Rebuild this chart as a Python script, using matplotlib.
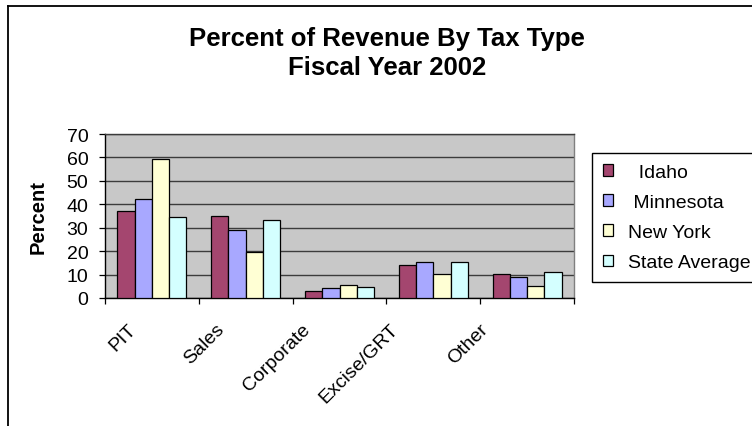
"""Percent of revenue by tax type, FY2002 -- grouped bar chart."""
import numpy as np
import matplotlib
matplotlib.use('Agg')
import matplotlib.pyplot as plt
from matplotlib.lines import Line2D
from matplotlib.transforms import ScaledTranslation

plt.rcParams['font.family'] = ['Liberation Sans', 'DejaVu Sans']

categories = ['PIT', 'Sales', 'Corporate', 'Excise/GRT', 'Other']
idaho      = [37.1, 35.0, 3.1, 13.9, 10.2]
minnesota  = [42.1, 29.0, 4.3, 15.5, 9.0]
new_york   = [59.5, 19.8, 5.4, 10.2, 5.3]
state_avg  = [34.6, 33.4, 4.7, 15.5, 11.2]
series_names = ['  Idaho', ' Minnesota', 'New York', 'State Average']
yticks = [0, 10, 20, 30, 40, 50, 60, 70]

colors = ['#A4466F', '#A8A8FF', '#FFFFD4', '#D4FFFF']
GRID = '#3c3c3c'

fig = plt.figure(figsize=(7.52, 4.27), dpi=100)
ax = fig.add_axes([105 / 752, 1 - 299 / 427, 469 / 752, 164 / 427])
ax.set_facecolor('#C8C8C8')

x = np.arange(len(categories)) + 0.5
w = 0.184
data = [idaho, minnesota, new_york, state_avg]
for k, (vals, name, c) in enumerate(zip(data, series_names, colors)):
    ax.bar(x + (k - 1.5) * w, vals, w, color=c, edgecolor='black',
           linewidth=0.9, label=name, zorder=3)

ax.set_xlim(0, len(categories))
ax.set_ylim(0, 70)
ax.set_yticks(yticks)
ax.yaxis.grid(True, color=GRID, linewidth=1.0, zorder=1)
ax.tick_params(axis='y', labelsize=14, length=4.5, width=0.9, pad=7.5,
               direction='out')

# category boundaries get the tick marks, labels sit at the centres
ax.set_xticks(np.arange(len(categories) + 1))
ax.set_xticklabels([])
ax.set_xticks(x, categories, minor=True)
ax.tick_params(axis='x', which='major', length=4, width=0.9, direction='out')
ax.tick_params(axis='x', which='minor', length=0, pad=20.5, labelsize=14)
dx_px = [-18, -24, -32, -38, -42]
for lab, dx in zip(ax.get_xticklabels(minor=True), dx_px):
    lab.set_rotation(45)
    lab.set_rotation_mode('anchor')
    lab.set_ha('right')
    lab.set_va('center')
    lab.set_transform(lab.get_transform()
                      + ScaledTranslation(dx / 100, 0, fig.dpi_scale_trans))

ax.spines['left'].set_color('black')
ax.spines['bottom'].set_color('black')
ax.spines['top'].set_color(GRID)
ax.spines['right'].set_color('#808080')
for s in ax.spines.values():
    s.set_linewidth(1.0)

ax.set_ylabel('Percent', fontsize=14.5, fontweight='bold')
ax.yaxis.set_label_coords((48 - 105) / 469, 0.5)

leg = ax.legend(loc='upper left', bbox_to_anchor=(592 / 752, 1 - 154 / 427),
                bbox_transform=fig.transFigure, fontsize=14, frameon=True,
                fancybox=False, edgecolor='black', framealpha=1,
                handlelength=0.55, handleheight=0.55, handletextpad=0.75,
                labelspacing=0.68, borderpad=0.55, borderaxespad=0)
leg.get_frame().set_linewidth(1.0)

fig.text(387 / 752, 1 - 39 / 427, 'Percent of Revenue By Tax Type',
         ha='center', va='center', fontsize=18.5, fontweight='bold')
fig.text(387 / 752, 1 - 68 / 427, 'Fiscal Year 2002',
         ha='center', va='center', fontsize=18.5, fontweight='bold')

# outer chart border (only top and left visible in the crop)
fig.add_artist(Line2D([8 / 752, 1], [1 - 7 / 427] * 2, color='black',
                      linewidth=1.3, transform=fig.transFigure))
fig.add_artist(Line2D([8 / 752] * 2, [0, 1 - 7 / 427], color='black',
                      linewidth=1.3, transform=fig.transFigure))

fig.savefig('out.png', dpi=100)
